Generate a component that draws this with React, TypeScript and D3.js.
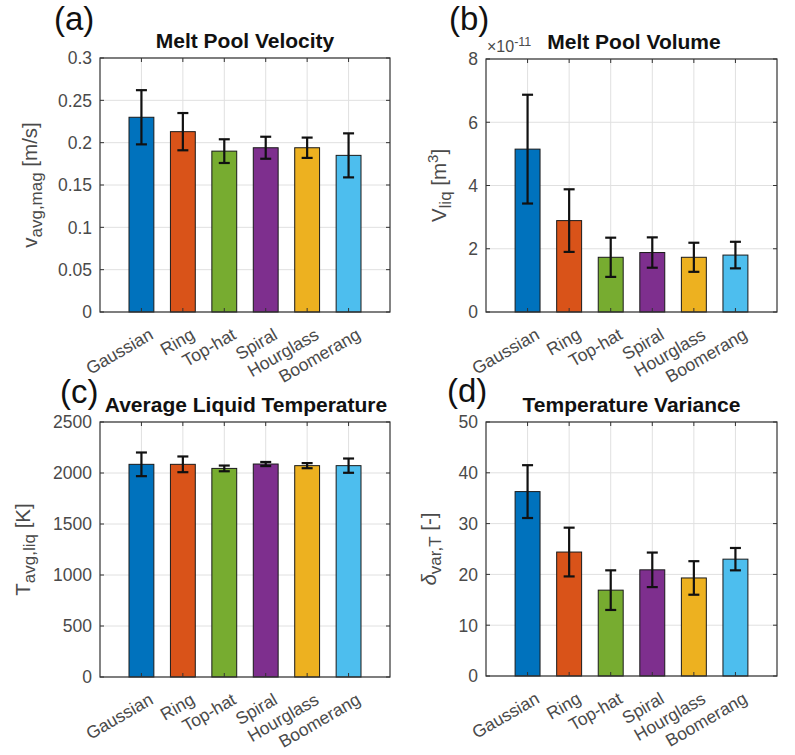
import React from 'react';
import * as d3 from 'd3';

const categories = ['Gaussian', 'Ring', 'Top-hat', 'Spiral', 'Hourglass', 'Boomerang'];
const barColors = ['#0072BD', '#D95319', '#77AC30', '#7E2F8E', '#EDB120', '#4DBEEE'];

const velocityMean = [0.230, 0.213, 0.190, 0.194, 0.194, 0.185];
const velocityErr = [0.032, 0.022, 0.014, 0.013, 0.012, 0.026];
const velocityTicks = [0, 0.05, 0.1, 0.15, 0.2, 0.25, 0.3];
const velocityTickLabels = ['0', '0.05', '0.1', '0.15', '0.2', '0.25', '0.3'];

const volumeMean = [5.15, 2.89, 1.73, 1.88, 1.73, 1.80];
const volumeErr = [1.72, 0.99, 0.62, 0.48, 0.46, 0.42];
const volumeTicks = [0, 2, 4, 6, 8];
const volumeTickLabels = ['0', '2', '4', '6', '8'];

const tempMean = [2085, 2085, 2045, 2088, 2072, 2072];
const tempErr = [116, 77, 28, 20, 25, 70];
const tempTicks = [0, 500, 1000, 1500, 2000, 2500];
const tempTickLabels = ['0', '500', '1000', '1500', '2000', '2500'];

const varMean = [36.3, 24.4, 16.9, 20.9, 19.3, 23.0];
const varErr = [5.2, 4.8, 3.9, 3.4, 3.3, 2.2];
const varTicks = [0, 10, 20, 30, 40, 50];
const varTickLabels = ['0', '10', '20', '30', '40', '50'];

const FONT = 'Liberation Sans, Arial, Helvetica, sans-serif';
const AXC = '#333';
const TXT = '#4a4a4a';

type PanelProps = {
  left: number; top: number; right: number; bottom: number;
  mean: number[]; err: number[]; ticks: number[]; tickLabels: string[];
  title: string; titleX?: number; letter: string; letterX: number; letterY: number;
  ylabel: React.ReactNode; ylabelX: number;
  extra?: React.ReactNode;
};

function Panel(p: PanelProps) {
  const x = d3.scaleLinear().domain([0, 7]).range([p.left, p.right]);
  const ymax = p.ticks[p.ticks.length - 1];
  const y = d3.scaleLinear().domain([0, ymax]).range([p.bottom, p.top]);
  const bw = x(0.6) - x(0);
  const cap = 5.5;
  const tl = 4;
  const cx = (p.left + p.right) / 2;
  const cy = (p.top + p.bottom) / 2;
  return (
    <g>
      {p.ticks.map((t, i) => (
        <line key={'gy' + i} x1={p.left} x2={p.right} y1={y(t)} y2={y(t)} stroke="#e0e0e0" strokeWidth={1} />
      ))}
      {categories.map((c, i) => (
        <line key={'gx' + i} x1={x(i + 1)} x2={x(i + 1)} y1={p.top} y2={p.bottom} stroke="#e0e0e0" strokeWidth={1} />
      ))}
      {p.mean.map((v, i) => (
        <rect key={'b' + i} x={x(i + 1) - bw / 2} y={y(v)} width={bw} height={y(0) - y(v)}
          fill={barColors[i]} stroke="#1a1a1a" strokeWidth={1} />
      ))}
      {p.mean.map((v, i) => {
        const xc = x(i + 1);
        const y1 = y(v + p.err[i]);
        const y2 = y(v - p.err[i]);
        return (
          <g key={'e' + i} stroke="#111" strokeWidth={2.2}>
            <line x1={xc} x2={xc} y1={y1} y2={y2} />
            <line x1={xc - cap} x2={xc + cap} y1={y1} y2={y1} />
            <line x1={xc - cap} x2={xc + cap} y1={y2} y2={y2} />
          </g>
        );
      })}
      <rect x={p.left} y={p.top} width={p.right - p.left} height={p.bottom - p.top} fill="none" stroke={AXC} strokeWidth={1.2} />
      {p.ticks.map((t, i) => (
        <g key={'t' + i} stroke={AXC} strokeWidth={1}>
          <line x1={p.left} x2={p.left + tl} y1={y(t)} y2={y(t)} />
          <line x1={p.right} x2={p.right - tl} y1={y(t)} y2={y(t)} />
        </g>
      ))}
      {categories.map((c, i) => (
        <g key={'tx' + i} stroke={AXC} strokeWidth={1}>
          <line x1={x(i + 1)} x2={x(i + 1)} y1={p.bottom} y2={p.bottom - tl} />
          <line x1={x(i + 1)} x2={x(i + 1)} y1={p.top} y2={p.top + tl} />
        </g>
      ))}
      {p.ticks.map((t, i) => (
        <text key={'yl' + i} x={p.left - 8} y={y(t)} dy="0.36em" textAnchor="end" fontSize={17.5} fill={TXT} fontFamily={FONT}>
          {p.tickLabels[i]}
        </text>
      ))}
      {categories.map((c, i) => (
        <text key={'xl' + i} transform={`translate(${x(i + 1) + 13},${p.bottom + 26}) rotate(-30)`} textAnchor="end"
          fontSize={17.5} fill={TXT} fontFamily={FONT}>
          {c}
        </text>
      ))}
      <text x={p.titleX ?? cx} y={p.top - 10} textAnchor="middle" fontSize={21} fontWeight="bold" fill="#111" fontFamily={FONT}>
        {p.title}
      </text>
      <text x={p.letterX} y={p.letterY} fontSize={33} fill="#111" fontFamily={FONT}>{p.letter}</text>
      <text transform={`translate(${p.ylabelX},${cy}) rotate(-90)`} textAnchor="middle" fontSize={20.5} fill={TXT} fontFamily={FONT}>
        {p.ylabel}
      </text>
      {p.extra}
    </g>
  );
}

export default function App() {
  return (
    <svg width={795} height={755} style={{ position: 'absolute', left: 0, top: 0, background: '#fff' }}>
      <rect x={0} y={0} width={795} height={755} fill="#fff" />
      <Panel left={100} top={58} right={390} bottom={312}
        mean={velocityMean} err={velocityErr} ticks={velocityTicks} tickLabels={velocityTickLabels}
        title="Melt Pool Velocity" letter="(a)" letterX={54} letterY={30} ylabelX={37}
        ylabel={<>v<tspan dy={5} fontSize={17}>avg,mag</tspan><tspan dy={-5}> [m/s]</tspan></>} />
      <Panel left={486} top={59} right={777} bottom={312}
        mean={volumeMean} err={volumeErr} ticks={volumeTicks} tickLabels={volumeTickLabels}
        title="Melt Pool Volume" titleX={634} letter="(b)" letterX={449} letterY={30} ylabelX={446}
        ylabel={<>V<tspan dy={5} fontSize={17}>liq</tspan><tspan dy={-5}> [m</tspan><tspan dy={-8} fontSize={15}>3</tspan><tspan dy={8}>]</tspan></>}
        extra={<text x={487} y={52} fontSize={16} fill={TXT} fontFamily={FONT}>×10<tspan dy={-6} fontSize={12.5}>-11</tspan></text>} />
      <Panel left={100} top={422} right={390} bottom={677}
        mean={tempMean} err={tempErr} ticks={tempTicks} tickLabels={tempTickLabels}
        title="Average Liquid Temperature" titleX={246} letter="(c)" letterX={60} letterY={403} ylabelX={30}
        ylabel={<>T<tspan dy={5} fontSize={17}>avg,liq</tspan><tspan dy={-5}> [K]</tspan></>} />
      <Panel left={486} top={422} right={777} bottom={676}
        mean={varMean} err={varErr} ticks={varTicks} tickLabels={varTickLabels}
        title="Temperature Variance" letter="(d)" letterX={447} letterY={402} ylabelX={436}
        ylabel={<tspan><tspan fontStyle="italic">δ</tspan><tspan dy={5} fontSize={17}>var,T</tspan><tspan dy={-5}> [-]</tspan></tspan>} />
    </svg>
  );
}
